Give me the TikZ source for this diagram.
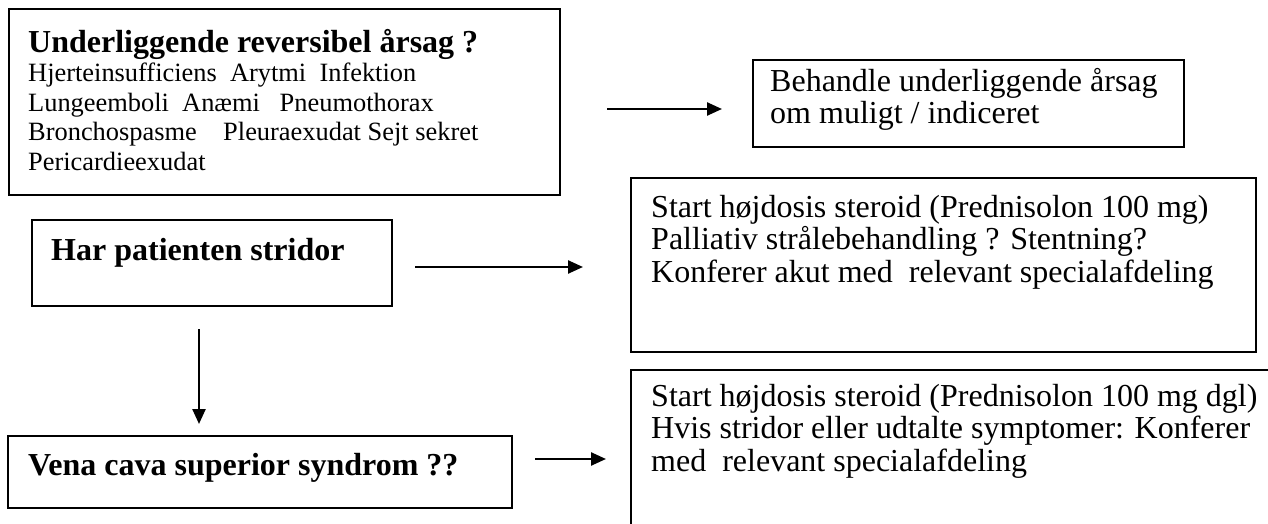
\documentclass[tikz,border=0pt]{standalone}
\usepackage{fontspec}
\setmainfont{Liberation Serif}
\usetikzlibrary{arrows.meta,positioning,calc}

\begin{document}
\begin{tikzpicture}[x=1pt,y=-1pt,
  box/.style={draw, line width=1.6pt, anchor=north west, inner sep=0pt},
  txt/.style={anchor=north west, inner sep=0pt, align=left, font=\fontsize{32}{32.5}\selectfont},
  head/.style={anchor=base west, inner sep=0pt, font=\fontsize{32}{34}\selectfont\bfseries},
  small/.style={anchor=north west, inner sep=0pt, align=left, font=\fontsize{26.4}{29.6}\selectfont},
  arr/.style={-{Triangle[length=15pt,width=13pt]}, line width=2.4pt},
]
\useasboundingbox (0,0) rectangle (1268,524);

% === Boxes ===
\node[box, minimum width=551pt, minimum height=186pt] (cause) at (8,8) {};
\node[box, minimum width=431pt, minimum height=87pt] (treat) at (752,59) {};
\node[box, minimum width=360pt, minimum height=86pt] (stridor) at (31,219) {};
\node[box, minimum width=625pt, minimum height=174pt] (stridact) at (630,177) {};
\node[box, minimum width=504pt, minimum height=72pt] (vcs) at (7,435) {};
\node[box, minimum width=700pt, minimum height=200pt] (vcsact) at (630,369) {};

% === Texts ===
\node[head] (causehead) at (28,53) {Underliggende reversibel årsag ?};
\node[small] (causelist) at (28,63) {Hjerteinsufficiens\ \ Arytmi\ \ Infektion\\
  Lungeemboli\ \ Anæmi\ \ \ Pneumothorax\\
  Bronchospasme\ \ \ \ Pleuraexudat Sejt sekret\\
  Pericardieexudat};
\node[txt] (treattxt) at (770,68) {Behandle underliggende årsag\\om muligt / indiceret};
\node[head] (stridortxt) at (51,260) {Har patienten stridor};
\node[txt] (stridacttxt) at (651,195) {Start højdosis steroid (Prednisolon 100 mg)\\
  Palliativ strålebehandling ? Stentning?\\
  Konferer akut med\ \ relevant specialafdeling};
\node[head] (vcstxt) at (28,475) {Vena cava superior syndrom ??};
\node[txt] (vcsacttxt) at (651,384) {Start højdosis steroid (Prednisolon 100 mg dgl)\\
  Hvis stridor eller udtalte symptomer: Konferer\\
  med\ \ relevant specialafdeling};

% === Arrows ===
\coordinate (a1s) at (607,109);
\coordinate (a1e) at (722,109);
\coordinate (a2s) at (415,267);
\coordinate (a2e) at (583,267);
\coordinate (a3s) at (535,459);
\coordinate (a3e) at (606,459);
\coordinate (dns) at (199,329);
\coordinate (dne) at (199,424);
\draw[arr] (a1s) -- (a1e);
\draw[arr] (a2s) -- (a2e);
\draw[arr] (a3s) -- (a3e);
\draw[arr] (dns) -- (dne);

\end{tikzpicture}
\end{document}
